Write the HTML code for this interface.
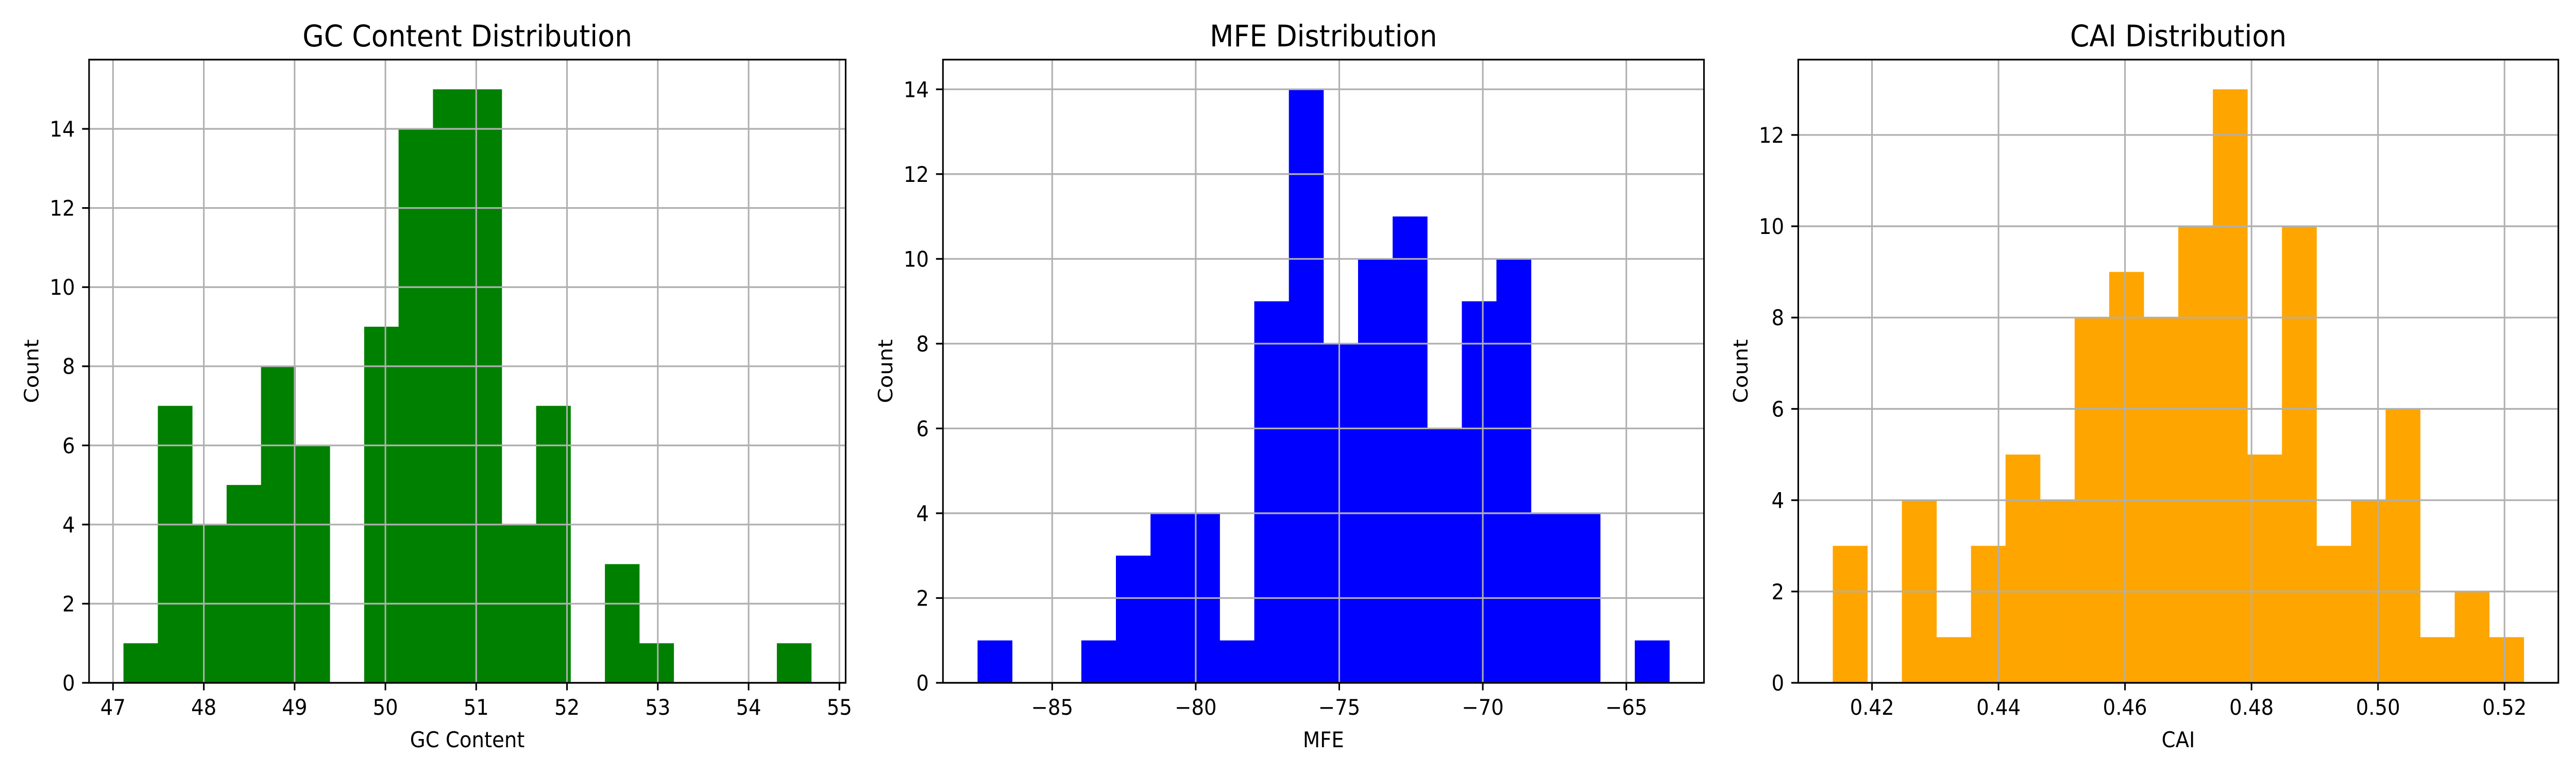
<!DOCTYPE html>
<html><head><meta charset="utf-8"><style>
html,body{margin:0;padding:0;background:#fff;width:100%;height:100%;overflow:hidden}
svg{display:block;position:absolute;left:0;top:0;width:100vw;height:100vh}
text{font-family:"DejaVu Sans","Liberation Sans",sans-serif;fill:#000}
</style></head><body>
<svg id="fig" viewBox="0 0 5400 1500" preserveAspectRatio="none" xmlns="http://www.w3.org/2000/svg"></svg>
<script>
const gcCounts = [1,7,4,5,8,6,0,9,14,15,15,4,7,0,3,1,0,0,0,1];
const gcRange = [47.115, 54.69];
const gcXTicks = [47,48,49,50,51,52,53,54,55];
const gcXTickLabels = ["47","48","49","50","51","52","53","54","55"];
const gcYTicks = [0,2,4,6,8,10,12,14];

const mfeCounts = [1,0,0,1,3,4,4,1,9,14,8,10,11,6,9,10,4,4,0,1];
const mfeRange = [-87.6, -63.5];
const mfeXTicks = [-85,-80,-75,-70,-65];
const mfeXTickLabels = ["\u221285","\u221280","\u221275","\u221270","\u221265"];
const mfeYTicks = [0,2,4,6,8,10,12,14];

const caiCounts = [3,0,4,1,3,5,4,8,9,8,10,13,5,10,3,4,6,1,2,1];
const caiRange = [0.4138, 0.52305];
const caiXTicks = [0.42,0.44,0.46,0.48,0.50,0.52];
const caiXTickLabels = ["0.42","0.44","0.46","0.48","0.50","0.52"];
const caiYTicks = [0,2,4,6,8,10,12];

const NS = "http://www.w3.org/2000/svg";
const svg = document.getElementById('fig');
function mk(tag, attrs, parent){
  const e = document.createElementNS(NS, tag);
  for (const k in attrs) e.setAttribute(k, attrs[k]);
  parent.appendChild(e);
  return e;
}
const TOP = 115.7, BOT = 1325;
function panel(name, L, R, counts, range, xt, xtl, yt, color, title, xlabel){
  const g = mk('g', {}, svg);
  
  
  const span = range[1] - range[0];
  const x0 = range[0] - 0.05*span, x1 = range[1] + 0.05*span;
  const ymax = Math.max(...counts) * 1.05;
  const sx = v => L + (v - x0) / (x1 - x0) * (R - L);
  const sy = v => BOT - v / ymax * (BOT - TOP);
  const bw = span / counts.length;
  counts.forEach((c, i) => {
    if (c <= 0) return;
    const xa = sx(range[0] + i*bw), xb = sx(range[0] + (i+1)*bw);
    const r = mk('rect', {x: xa, y: sy(c), width: xb - xa + 0.5, height: BOT - sy(c), fill: color}, g);
    
    
  });
  xt.forEach((t, i) => {
    const x = sx(t);
    const ln = mk('line', {x1: x, x2: x, y1: TOP, y2: BOT, stroke: '#b0b0b0', 'stroke-width': 3.3}, g);
    
    
    mk('line', {x1: x, x2: x, y1: BOT, y2: BOT + 14.6, stroke: '#000', 'stroke-width': 3.3}, g);
    const tx = mk('text', {x: x, y: 1387, 'font-size': 41.7, 'text-anchor': 'middle'}, g);
    tx.textContent = xtl[i];
    
    
  });
  yt.forEach(t => {
    const y = sy(t);
    const ln = mk('line', {x1: L, x2: R, y1: y, y2: y, stroke: '#b0b0b0', 'stroke-width': 3.3}, g);
    
    
    mk('line', {x1: L - 14.6, x2: L, y1: y, y2: y, stroke: '#000', 'stroke-width': 3.3}, g);
    const tx = mk('text', {x: L - 29.5, y: y + 15, 'font-size': 41.7, 'text-anchor': 'end'}, g);
    tx.textContent = String(t);
    
    
  });
  const fr = mk('rect', {x: L, y: TOP, width: R - L, height: BOT - TOP, fill: 'none', stroke: '#000', 'stroke-width': 3.3}, g);
  
  
  const ti = mk('text', {x: (L + R)/2, y: 90, 'font-size': 58, 'text-anchor': 'middle'}, g);
  ti.textContent = title;
  
  
  const xl = mk('text', {x: (L + R)/2, y: 1450, 'font-size': 41.7, 'text-anchor': 'middle'}, g);
  xl.textContent = xlabel;
  
  
  const yl = mk('text', {x: 0, y: 0, 'font-size': 41.7, 'text-anchor': 'middle', transform: 'translate(' + (L - 106) + ',' + ((TOP + BOT)/2) + ') rotate(-90)'}, g);
  yl.textContent = 'Count';
  
  
}
panel('gc', 186.7, 1772.7, gcCounts, gcRange, gcXTicks, gcXTickLabels, gcYTicks, '#008000', 'GC Content Distribution', 'GC Content');
panel('mfe', 1976.7, 3572, mfeCounts, mfeRange, mfeXTicks, mfeXTickLabels, mfeYTicks, '#0000ff', 'MFE Distribution', 'MFE');
panel('cai', 3769.6, 5363, caiCounts, caiRange, caiXTicks, caiXTickLabels, caiYTicks, '#ffa500', 'CAI Distribution', 'CAI');
</script>
</body></html>
